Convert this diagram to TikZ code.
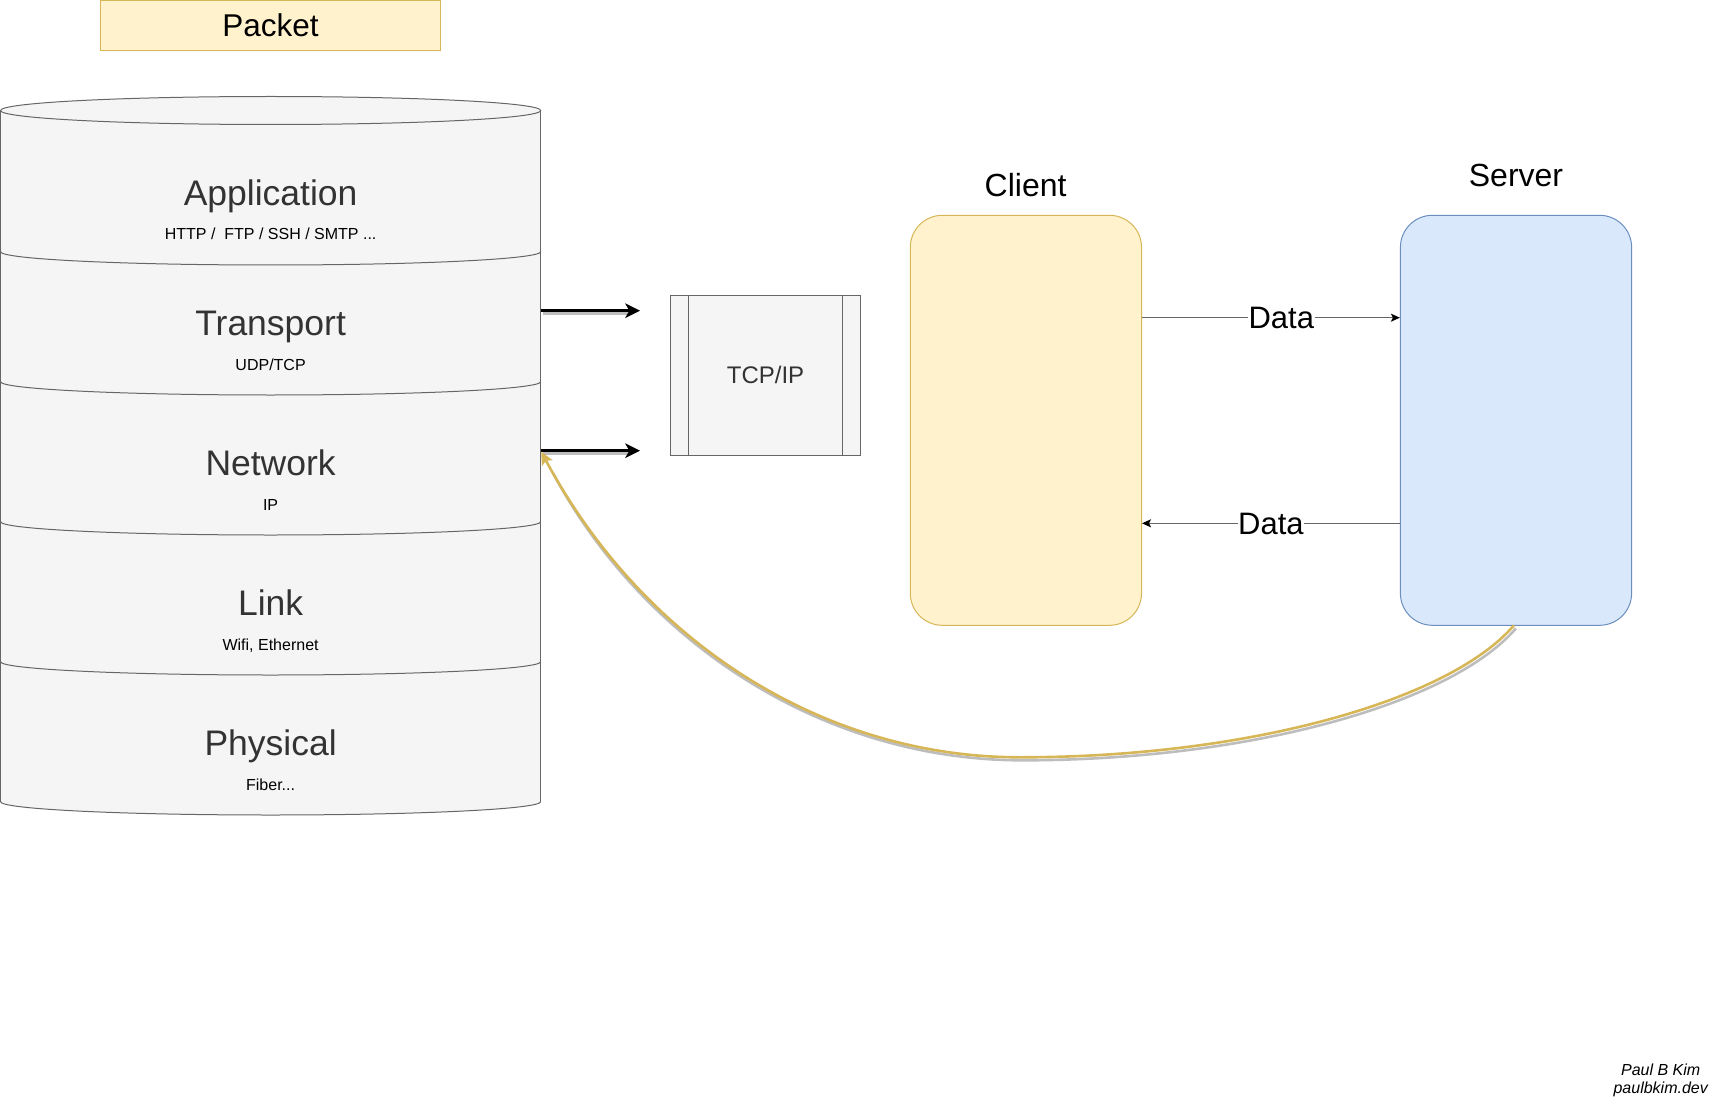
\documentclass[tikz,border=0pt]{standalone}
\usepackage{fontspec}
\setmainfont{Liberation Sans}
\usetikzlibrary{arrows.meta,calc}
\definecolor{cylfill}{HTML}{F5F5F5}
\definecolor{cylline}{HTML}{666666}
\definecolor{ylfill}{HTML}{FFF2CC}
\definecolor{ylline}{HTML}{D6B656}
\definecolor{blfill}{HTML}{DAE8FC}
\definecolor{blline}{HTML}{6C8EBF}
\definecolor{txtgray}{HTML}{333333}
\definecolor{shadowgray}{HTML}{BDBDBD}
\newcommand{\fsz}[1]{\fontsize{#1}{#1}\selectfont}
\begin{document}
\begin{tikzpicture}[x=1pt,y=-1pt,
  layertitle/.style={font=\fsz{35.5}, text=txtgray, anchor=base, inner sep=0pt},
  layersub/.style={font=\fsz{16}, text=black, anchor=base, inner sep=0pt},
  boxlabel/.style={font=\fsz{32}, text=black, anchor=base, inner sep=0pt},
  cylstroke/.style={draw=cylline, line width=1pt},
  thickarrow/.style={line width=3pt, black, -{Stealth[length=14.7pt,width=14.4pt,inset=4pt]}},
  thickshadow/.style={line width=3pt, shadowgray},
  dataline/.style={draw=cylline, line width=1.2pt, -{Stealth[length=9pt,width=8pt,inset=2pt,color=black]}},
  datalabel/.style={font=\fsz{31}, fill=white, text height=22pt, text depth=0pt, inner xsep=0.5pt, inner ysep=1pt},
  goldcurve/.style={draw=ylline, line width=2.6pt, -{Stealth[length=13pt,width=12pt,inset=3pt]}},
  goldshadow/.style={draw=shadowgray, line width=2.6pt},
  sigtext/.style={font=\fsz{16}\itshape, anchor=base, inner sep=0pt}
]
\useasboundingbox (0,0) rectangle (1731,1099);

% ---------- Packet ----------
\node[draw=ylline, fill=ylfill, line width=1pt, minimum width=339.8pt, minimum height=50.2pt,
      inner sep=0pt, font=\fsz{31.5}, text height=22pt, text depth=0pt] (packet) at (270.5,25.6) {Packet};

% ---------- Cylinder stack ----------
\fill[cylfill] (0.5,110.5) -- (0.5,801.7)
  arc[start angle=180,end angle=360,x radius=270.1pt,y radius=13.3pt]
  -- (540.7,110.5)
  arc[start angle=0,end angle=180,x radius=270.1pt,y radius=14pt] -- cycle;
\draw[cylstroke] (0.5,110.5) -- (0.5,801.7);
\draw[cylstroke] (540.7,110.5) -- (540.7,801.7);
\draw[cylstroke] (270.6,110.5) ellipse[x radius=270.1pt, y radius=14pt];
\foreach \yy in {251.7,381.7,521.7,661.7,801.7}{
  \draw[cylstroke] (0.5,\yy) arc[start angle=180,end angle=360,x radius=270.1pt,y radius=13.3pt];
}

\node[layertitle] (app) at (270.6,205.7) {Application};
\node[layersub] (appsub) at (270.6,240) {HTTP /~ FTP / SSH / SMTP ...};
\node[layertitle] (trans) at (270.6,335.7) {Transport};
\node[layersub] (transsub) at (270.6,370) {UDP/TCP};
\node[layertitle] (net) at (270.6,475.7) {Network};
\node[layersub] (netsub) at (270.6,510) {IP};
\node[layertitle] (link) at (270.6,615.7) {Link};
\node[layersub] (linksub) at (270.6,650) {Wifi, Ethernet};
\node[layertitle] (phys) at (270.6,755.7) {Physical};
\node[layersub] (physsub) at (270.6,790) {Fiber...};

% ---------- arrows out of the stack ----------
\coordinate (tport) at (540.7,310.7);
\coordinate (tend) at (640,310.7);
\coordinate (nport) at (540.7,450.7);
\coordinate (nend) at (640,450.7);
\coordinate (tsh1) at (542.7,313.7);
\coordinate (tsh2) at (628,313.7);
\coordinate (nsh1) at (542.7,453.7);
\coordinate (nsh2) at (628,453.7);
\draw[thickshadow] (tsh1) -- (tsh2);
\draw[thickshadow] (nsh1) -- (nsh2);
\draw[thickarrow] (tport) -- (tend);
\draw[thickarrow] (nport) -- (nend);

% ---------- TCP/IP ----------
\node[draw=cylline, fill=cylfill, line width=1pt, minimum width=190pt, minimum height=159.6pt,
      inner sep=0pt, font=\fsz{24}, text=txtgray, text height=16pt, text depth=0pt] (tcp) at (765.5,375.5) {TCP/IP};
\draw[cylstroke] ($(tcp.north west)+(18.4,0)$) -- ($(tcp.south west)+(18.4,0)$);
\draw[cylstroke] ($(tcp.north east)+(-18.9,0)$) -- ($(tcp.south east)+(-18.9,0)$);

% ---------- Client / Server ----------
\node[draw=ylline, fill=ylfill, line width=1pt, rounded corners=32pt, minimum width=231.2pt,
      minimum height=410pt, inner sep=0pt] (client) at (1025.9,420.3) {};
\node[draw=blline, fill=blfill, line width=1pt, rounded corners=32pt, minimum width=231.2pt,
      minimum height=410pt, inner sep=0pt] (server) at (1516,420.3) {};
\node[boxlabel] (clientlabel) at (1025.6,196.7) {Client};
\node[boxlabel] (serverlabel) at (1516,186.7) {Server};

\coordinate (d1) at (0,317.7);
\coordinate (d2) at (0,523.3);
\draw[dataline] (client.east |- d1) -- node[datalabel, pos=0.54] (data1) {Data} (server.west |- d1);
\draw[dataline] (server.west |- d2) -- node[datalabel, pos=0.5] (data2) {Data} (client.east |- d2);

% ---------- gold curve from server back to network layer ----------
\coordinate (curvestart) at (1514,625.3);
\coordinate (curveend) at (541.2,451.7);
\begin{scope}[transform canvas={shift={(2pt,-3pt)}}]
\draw[goldshadow] (curvestart) .. controls (1450,700) and (1250,757.3) .. (1020,757.3)
   .. controls (820,757.3) and (641.4,638.9) .. (551,470);
\end{scope}
\draw[goldcurve] (curvestart) .. controls (1450,700) and (1250,757.3) .. (1020,757.3)
   .. controls (820,757.3) and (641.4,638.9) .. (curveend);

% ---------- signature ----------
\node[sigtext] (sig1) at (1660.7,1075.7) {Paul B Kim};
\node[sigtext] (sig2) at (1660.7,1093.3) {paulbkim.dev};
\end{tikzpicture}
\end{document}
